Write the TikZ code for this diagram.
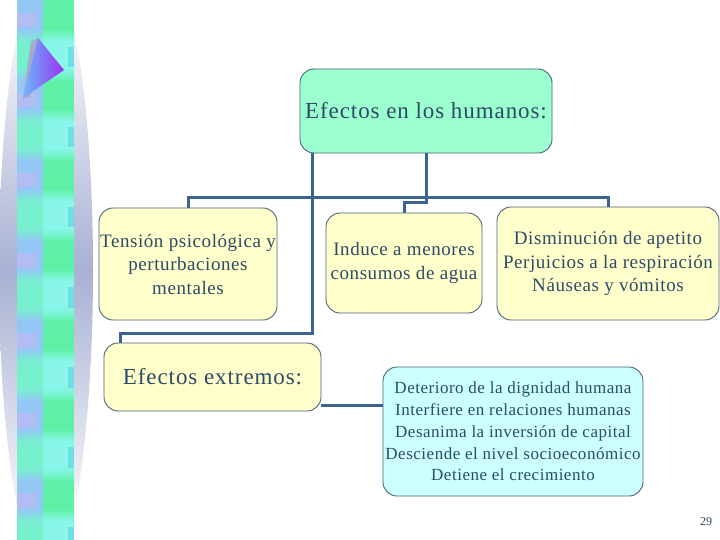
\documentclass[tikz,border=0pt]{standalone}
\usepackage{fontspec}
\setmainfont{Liberation Serif}
\newfontfamily\spacedA[LetterSpace=4]{Liberation Serif}
\newfontfamily\spacedB[LetterSpace=3]{Liberation Serif}
\definecolor{mint}{HTML}{9CFFD0}
\definecolor{lyellow}{HTML}{FFFFCC}
\definecolor{lcyan}{HTML}{CCFFFF}
\definecolor{bordercol}{HTML}{4A6478}
\definecolor{conncol}{HTML}{3D6491}
\definecolor{txt}{HTML}{2E4B66}
\definecolor{glow}{HTML}{A9B1D3}
\definecolor{cyL}{HTML}{78F0CE}
\definecolor{cyR}{HTML}{8AF6EA}
\definecolor{blL}{HTML}{94C6F6}
\definecolor{laL}{HTML}{C6BAF2}
\definecolor{grR}{HTML}{5EF0A6}
\definecolor{edgeC}{HTML}{66D6E4}
\definecolor{triA}{HTML}{6CB8FF}
\definecolor{triB}{HTML}{9A30F0}
\definecolor{triG}{HTML}{A8A8C8}
\tikzset{
  box/.style={draw=bordercol, line width=0.9pt, rounded corners=14pt, align=center, text=txt, inner sep=0pt},
  conn/.style={draw=conncol, line width=3pt},
  smalltext/.style={font=\spacedB\fontsize{19}{23.5}\selectfont},
  bigtext/.style={font=\spacedA\fontsize{23}{26}\selectfont},
}
\begin{document}
\begin{tikzpicture}[x=1pt,y=-1pt]
\useasboundingbox (0,0) rectangle (720,540);
\fill[white] (0,0) rectangle (720,540);
% left decoration: glow
\begin{scope}
\clip (46,270) ellipse [x radius=47, y radius=300];
\shade[top color=white, bottom color=glow] (0,0) rectangle (94,270);
\shade[top color=glow, bottom color=white] (0,270) rectangle (94,540);
\end{scope}
% strip
\foreach \k in {-1,...,6}{
  \pgfmathsetmacro{\s}{35+80*\k}
  \fill[cyL] (17,\s) rectangle (43,\s+40);
  \fill[cyR] (43,\s) rectangle (74,\s+40);
  \fill[edgeC, opacity=0.7] (68,\s+12) rectangle (74,\s+34);
  \fill[blL] (17,\s+40) rectangle (43,\s+80);
  \fill[laL, opacity=0.6] (17,\s+58) rectangle (36,\s+76);
  \fill[grR] (43,\s+40) rectangle (74,\s+80);
  % soft transitions
  \shade[top color=blL, bottom color=cyL] (17,\s-7) rectangle (43,\s+7);
  \shade[top color=grR, bottom color=cyR] (43,\s-7) rectangle (74,\s+7);
  \shade[top color=cyL, bottom color=blL] (17,\s+33) rectangle (43,\s+47);
  \shade[top color=cyR, bottom color=grR] (43,\s+33) rectangle (74,\s+47);
}
% triangle
\fill[triG] (31,42) -- (38,38) -- (30,97) -- (23,98) -- cycle;
\shade[left color=triA, right color=triB] (38,38) -- (64,70) -- (23,98) -- cycle;
% nodes
\node[box, fill=mint, minimum width=252, minimum height=84, bigtext] (top) at (426,111) {Efectos en los humanos:};
\node[box, fill=lyellow, minimum width=178, minimum height=112, smalltext] (tension) at (188,264) {Tensión psicológica y\\perturbaciones\\mentales};
\node[box, fill=lyellow, minimum width=156, minimum height=100, smalltext] (induce) at (404,263) {Induce a menores\\consumos de agua};
\node[box, fill=lyellow, minimum width=222, minimum height=113, smalltext] (dism) at (608,263.5) {Disminución de apetito\\Perjuicios a la respiración\\Náuseas y vómitos};
\node[box, fill=lyellow, minimum width=217, minimum height=68, bigtext] (extremos) at (212.5,377) {Efectos extremos:};
\node[box, fill=lcyan, minimum width=260, minimum height=129, font=\spacedB\fontsize{17}{21.7}\selectfont] (deterioro) at (513,431.5) {Deterioro de la dignidad humana\\Interfiere en relaciones humanas\\Desanima la inversión de capital\\Desciende el nivel socioeconómico\\Detiene el crecimiento};
\node[text=txt, font=\fontsize{12}{14}\selectfont] (page) at (706,522) {29};
% connectors
\coordinate (bus) at (426,198);
\coordinate (jog) at (426,203);
\coordinate (ldrop) at (312,153);
\coordinate (lturn) at (120,333);
\draw[conn] (top.south) -- (bus) -| (tension.north);
\draw[conn] (bus) -| (dism.north);
\draw[conn] (bus) -- (jog) -| (induce.north);
\draw[conn] (ldrop) |- (lturn) -- (lturn |- extremos.north);
\draw[conn] ([yshift=-28pt]extremos.east) -- ([yshift=-28pt]extremos.east -| deterioro.west);
\end{tikzpicture}
\end{document}
